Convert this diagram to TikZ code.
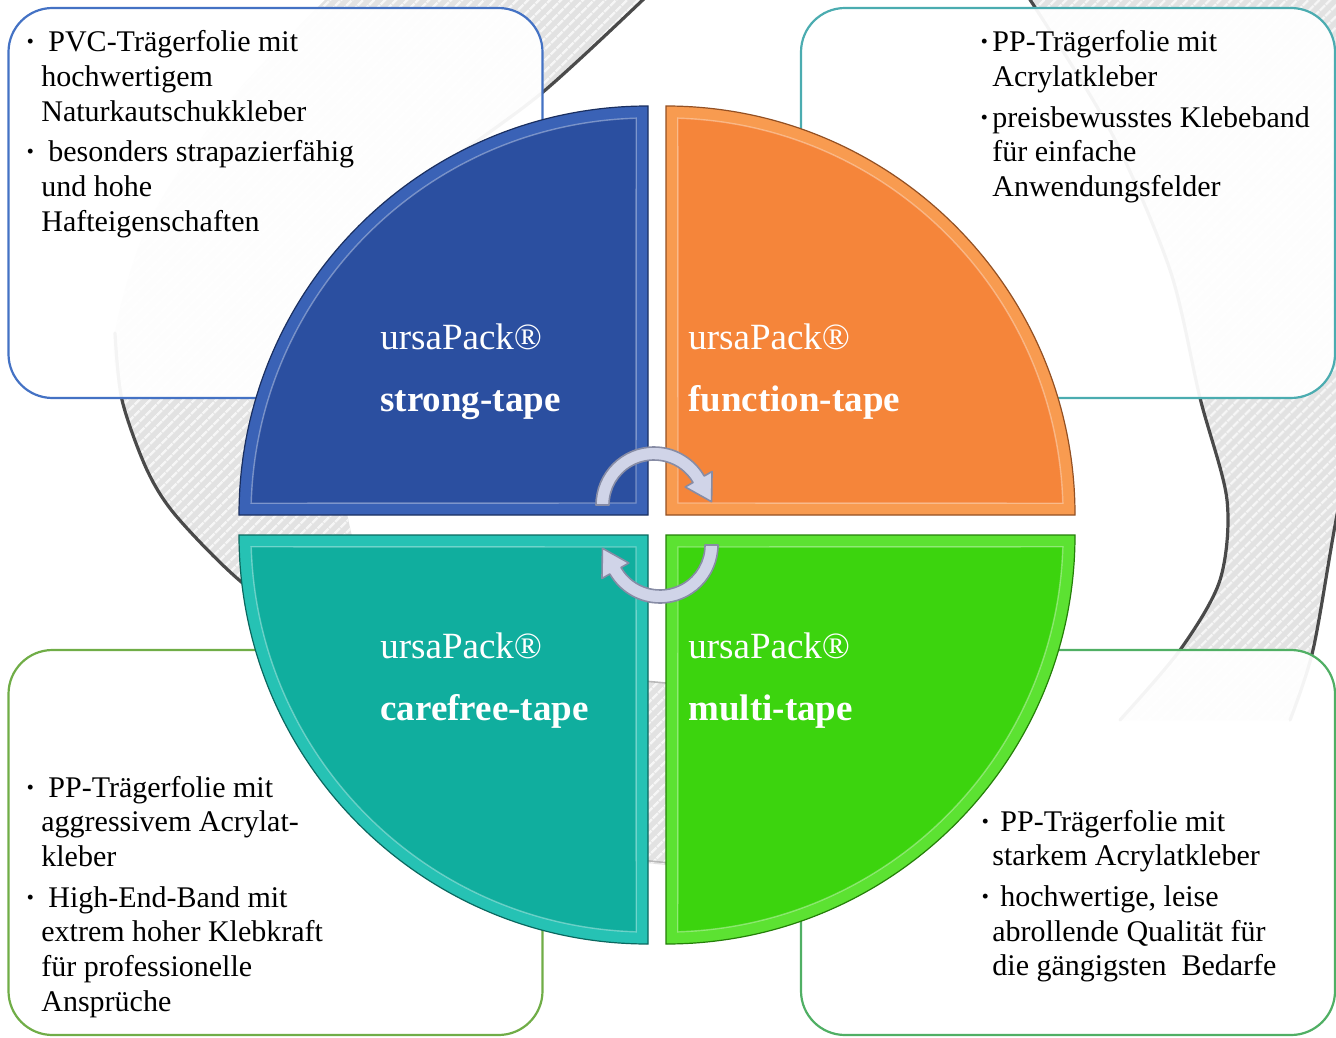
\documentclass[tikz,border=0pt]{standalone}
\usepackage{fontspec}
\setmainfont{Liberation Serif}
\usepackage{tikz}
\usetikzlibrary{shapes}
\usetikzlibrary{arrows}
\usetikzlibrary{positioning}
\usetikzlibrary{patterns,patterns.meta}
\usetikzlibrary{calc}

\definecolor{strongface}{RGB}{43,79,160}
\definecolor{strongrim}{RGB}{58,98,182}
\definecolor{functionface}{RGB}{245,133,58}
\definecolor{functionrim}{RGB}{248,155,80}
\definecolor{carefreeface}{RGB}{16,174,158}
\definecolor{carefreerim}{RGB}{38,194,180}
\definecolor{multiface}{RGB}{60,212,14}
\definecolor{multirim}{RGB}{92,226,50}
\definecolor{lineTL}{RGB}{68,114,196}
\definecolor{lineTR}{RGB}{75,172,176}
\definecolor{lineBL}{RGB}{112,173,71}
\definecolor{lineBR}{RGB}{80,175,100}
\definecolor{cyclefill}{RGB}{208,212,232}
\definecolor{cycleedge}{RGB}{135,140,165}
\definecolor{sketchbase}{RGB}{226,226,226}
\definecolor{sketchline}{RGB}{246,246,246}

\begin{document}
\begin{tikzpicture}[x=0.5pt,y=-0.5pt]
\tikzstyle{infobox}=[rectangle,rounded corners=22pt,line width=1.1pt,
        fill=white,fill opacity=0.94,minimum width=267pt]
\tikzstyle{bullets}=[anchor=base west,inner sep=0pt,text=black,
        font=\fontsize{15}{17.4}\selectfont]
\tikzstyle{tapename}=[anchor=base west,inner sep=0pt,text=white,
        font=\fontsize{18.5}{31}\selectfont]
\tikzstyle{sketch}=[preaction={fill=sketchbase},pattern={Lines[angle=45,distance=4pt,line width=1.3pt]},pattern color=sketchline]
\tikzstyle{pencil}=[draw=gray!35!black,draw opacity=0.85,line width=1.6pt,line cap=round]
\tikzstyle{bevel}=[draw=white,draw opacity=0.35,line width=0.7pt]
\tikzstyle{cyclearrow}=[fill=cyclefill,draw=cycleedge,line width=0.8pt,line join=round]
\useasboundingbox (0,0) rectangle (1336,1037);
\clip (0,0) rectangle (1336,1037);
%hintergrund
\fill[sketch] plot[smooth] coordinates {(330,-5) (230,100) (150,220) (115,333) (122,400) (147,470) (177,517) (245,585) (330,640)}
        -- plot[smooth] coordinates {(420,640) (360,560) (340,460) (345,360) (380,250) (450,160) (543,92) (648,-5)} -- cycle;
\draw[pencil] plot[smooth] coordinates {(648,-5) (543,92) (450,160)};
\draw[pencil] plot[smooth] coordinates {(115,333) (122,400) (147,470) (177,517) (245,585) (330,640)};
\fill[sketch] plot[smooth] coordinates {(1027,-5) (1110,130) (1170,270) (1200,398) (1227,500) (1220,580) (1180,650) (1120,720)}
        -- plot[smooth] coordinates {(1290,720) (1313,650) (1336,520) (1360,400) (1380,200) (1390,-5)} -- cycle;
\draw[pencil] plot[smooth] coordinates {(1027,-5) (1110,130) (1170,270) (1200,398) (1227,500) (1220,580) (1180,650) (1120,720)};
\draw[pencil] plot[smooth] coordinates {(1360,400) (1336,520) (1313,650) (1290,720)};
\fill[sketch] (590,676) -- (730,690) -- (730,872) -- (590,857) -- cycle;
\draw[gray!55,line width=0.8pt] (600,677) -- (720,688);
\draw[gray!55,line width=0.8pt] (600,856) -- (720,868);
%kaesten
\node[infobox,draw=lineTL,minimum height=195pt] (boxTL) at (275.5,203) {};
\node[infobox,draw=lineTR,minimum height=195pt] (boxTR) at (1068,203) {};
\node[infobox,draw=lineBL,minimum height=192.5pt] (boxBL) at (275.5,842.5) {};
\node[infobox,draw=lineBR,minimum height=192.5pt] (boxBR) at (1068,842.5) {};
%viertelkreise
\fill[strongrim] (648,515) -- (239,515) arc[start angle=180,end angle=270,radius=409] -- cycle;
\fill[strongface] (636,503) -- ([shift={(648,515)}]181.7:397) arc[start angle=181.7,end angle=268.3,radius=397] -- cycle;
\draw[bevel] (636,503) -- ([shift={(648,515)}]181.7:397) arc[start angle=181.7,end angle=268.3,radius=397] -- cycle;
\draw[strongface!60!black,line width=0.6pt] (648,515) -- (239,515) arc[start angle=180,end angle=270,radius=409] -- cycle;
\fill[functionrim] (666,515) -- (666,106) arc[start angle=270,end angle=360,radius=409] -- cycle;
\fill[functionface] (678,503) -- ([shift={(666,515)}]271.7:397) arc[start angle=271.7,end angle=358.3,radius=397] -- cycle;
\draw[bevel] (678,503) -- ([shift={(666,515)}]271.7:397) arc[start angle=271.7,end angle=358.3,radius=397] -- cycle;
\draw[functionface!60!black,line width=0.6pt] (666,515) -- (666,106) arc[start angle=270,end angle=360,radius=409] -- cycle;
\fill[carefreerim] (648,535) -- (648,944) arc[start angle=90,end angle=180,radius=409] -- cycle;
\fill[carefreeface] (636,547) -- ([shift={(648,535)}]91.7:397) arc[start angle=91.7,end angle=178.3,radius=397] -- cycle;
\draw[bevel] (636,547) -- ([shift={(648,535)}]91.7:397) arc[start angle=91.7,end angle=178.3,radius=397] -- cycle;
\draw[carefreeface!60!black,line width=0.6pt] (648,535) -- (648,944) arc[start angle=90,end angle=180,radius=409] -- cycle;
\fill[multirim] (666,535) -- (1075,535) arc[start angle=0,end angle=90,radius=409] -- cycle;
\fill[multiface] (678,547) -- ([shift={(666,535)}]1.7:397) arc[start angle=1.7,end angle=88.3,radius=397] -- cycle;
\draw[bevel] (678,547) -- ([shift={(666,535)}]1.7:397) arc[start angle=1.7,end angle=88.3,radius=397] -- cycle;
\draw[multiface!60!black,line width=0.6pt] (666,535) -- (1075,535) arc[start angle=0,end angle=90,radius=409] -- cycle;
%beschriftung
\node[tapename] (strong) at (380,350) {\begin{tabular}[t]{@{}l@{}}ursaPack®\\\textbf{strong-tape}\end{tabular}};
\node[tapename] (function) at (688,350) {\begin{tabular}[t]{@{}l@{}}ursaPack®\\\textbf{function-tape}\end{tabular}};
\node[tapename] (carefree) at (380,658) {\begin{tabular}[t]{@{}l@{}}ursaPack®\\\textbf{carefree-tape}\end{tabular}};
\node[tapename] (multi) at (688,658) {\begin{tabular}[t]{@{}l@{}}ursaPack®\\\textbf{multi-tape}\end{tabular}};
%pfeile
\filldraw[cyclearrow] (596,505) arc[start angle=180,end angle=330,radius=58]
        -- ([shift={(654,505)}]330:67) -- ($(654,505)+(330:51.5)+(60:26)$)
        -- ([shift={(654,505)}]330:36) -- ([shift={(654,505)}]330:45)
        arc[start angle=330,end angle=180,radius=45] -- cycle;
\filldraw[cyclearrow] (718,545) arc[start angle=0,end angle=150,radius=58]
        -- ([shift={(660,545)}]150:67) -- ($(660,545)+(150:51.5)+(240:26)$)
        -- ([shift={(660,545)}]150:36) -- ([shift={(660,545)}]150:45)
        arc[start angle=150,end angle=0,radius=45] -- cycle;
%texte
\node[bullets] (textTL) at (41,52) {\begin{tabular}[t]{@{}l@{}}
\llap{\textbf{·}\hspace{3pt}}\hspace{3.5pt}PVC-Trägerfolie mit\\
hochwertigem\\
Naturkautschukkleber\\[2.8pt]
\llap{\textbf{·}\hspace{3pt}}\hspace{3.5pt}besonders strapazierfähig\\
und hohe\\
Hafteigenschaften\end{tabular}};
\node[bullets] (textTR) at (992,52) {\begin{tabular}[t]{@{}l@{}}
\llap{\textbf{·}\hspace{1.5pt}}PP-Trägerfolie mit\\
Acrylatkleber\\[2.8pt]
\llap{\textbf{·}\hspace{1.5pt}}preisbewusstes Klebeband\\
für einfache\\
Anwendungsfelder\end{tabular}};
\node[bullets] (textBL) at (41,797) {\begin{tabular}[t]{@{}l@{}}
\llap{\textbf{·}\hspace{3pt}}\hspace{3.5pt}PP-Trägerfolie mit\\
aggressivem Acrylat-\\
kleber\\[2.8pt]
\llap{\textbf{·}\hspace{3pt}}\hspace{3.5pt}High-End-Band mit\\
extrem hoher Klebkraft\\
für professionelle\\
Ansprüche\end{tabular}};
\node[bullets] (textBR) at (992,831) {\begin{tabular}[t]{@{}l@{}}
\llap{\textbf{·}\hspace{1pt}}\hspace{4pt}PP-Trägerfolie mit\\
starkem Acrylatkleber\\[2.8pt]
\llap{\textbf{·}\hspace{1pt}}\hspace{4pt}hochwertige, leise\\
abrollende Qualität für\\
die gängigsten~ Bedarfe\end{tabular}};
\end{tikzpicture}
\end{document}
